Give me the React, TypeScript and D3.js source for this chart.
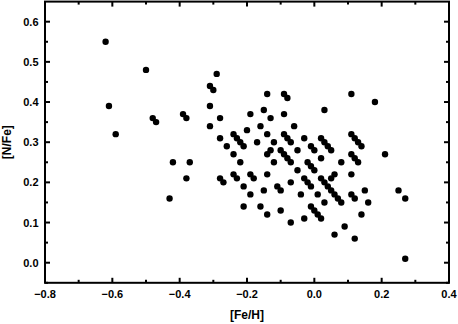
import React from "react";
import * as d3 from "d3";

const feH: number[] = [
  -0.62, -0.61, -0.59, -0.50, -0.48, -0.47, -0.43, -0.42, -0.39, -0.38, -0.38, -0.37,
  -0.29, -0.31, -0.30, -0.31, -0.28, -0.19, -0.31, -0.20, -0.28, -0.24, -0.23, -0.22,
  -0.21, -0.26, -0.24,
  -0.14, -0.09, -0.08, 0.03, -0.15, -0.13, -0.09, -0.16, -0.06, -0.14, -0.09, -0.08,
  -0.07, -0.03, -0.17, -0.12, 0.02, 0.03, 0.04, 0.05, -0.01, 0.00, -0.05, -0.13,
  -0.14, -0.10, -0.09, -0.08,
  0.11, 0.18, 0.11, 0.12, 0.13, 0.14, 0.11, 0.21,
  -0.22, -0.28, -0.27, -0.24, -0.23, -0.19, -0.18, -0.21, -0.19, -0.21,
  -0.12, -0.07, -0.02, -0.01, 0.00, 0.02, -0.05, -0.14, -0.03, -0.02, -0.01, 0.02,
  0.03, 0.04, 0.05, 0.06, -0.07, -0.11, -0.10, -0.15, -0.04, 0.01, 0.03, -0.16,
  -0.14, -0.10, -0.01, 0.00, 0.01, 0.02, -0.07, -0.03, 0.06,
  0.12, 0.13, 0.08, 0.05, 0.11, 0.06, 0.07, 0.08, 0.11, 0.12, 0.15, 0.16, 0.14,
  0.25, 0.27, 0.09, 0.12, 0.27,
];

const nFe: number[] = [
  0.55, 0.39, 0.32, 0.48, 0.36, 0.35, 0.16, 0.25, 0.37, 0.36, 0.21, 0.25,
  0.47, 0.44, 0.43, 0.39, 0.36, 0.37, 0.34, 0.33, 0.31, 0.32, 0.31, 0.30,
  0.29, 0.29, 0.27,
  0.42, 0.42, 0.41, 0.38, 0.38, 0.36, 0.37, 0.34, 0.34, 0.32, 0.32, 0.31,
  0.30, 0.31, 0.30, 0.30, 0.31, 0.30, 0.29, 0.28, 0.29, 0.28, 0.28, 0.28,
  0.27, 0.28, 0.27, 0.26,
  0.42, 0.40, 0.32, 0.31, 0.30, 0.29, 0.27, 0.27,
  0.25, 0.21, 0.20, 0.22, 0.21, 0.22, 0.21, 0.19, 0.17, 0.14,
  0.25, 0.25, 0.25, 0.24, 0.23, 0.26, 0.23, 0.22, 0.21, 0.20, 0.19, 0.21,
  0.20, 0.19, 0.18, 0.22, 0.20, 0.19, 0.18, 0.18, 0.17, 0.17, 0.15, 0.14,
  0.12, 0.13, 0.14, 0.13, 0.12, 0.11, 0.10, 0.11, 0.07,
  0.26, 0.25, 0.25, 0.21, 0.22, 0.17, 0.16, 0.15, 0.17, 0.16, 0.18, 0.15, 0.12,
  0.18, 0.16, 0.09, 0.06, 0.01,
];

const xMajorTicks: number[] = [-0.8, -0.6, -0.4, -0.2, 0.0, 0.2, 0.4];
const xMinorTicks: number[] = [-0.7, -0.5, -0.3, -0.1, 0.1, 0.3];
const yMajorTicks: number[] = [0.0, 0.1, 0.2, 0.3, 0.4, 0.5, 0.6];
const yMinorTicks: number[] = [-0.05, 0.05, 0.15, 0.25, 0.35, 0.45, 0.55];
const xLabel = "[Fe/H]";
const yLabel = "[N/Fe]";

const W = 458;
const H = 324;
const left = 45;
const right = 449;
const top = 1.6;
const bottom = 282.8;

export default function App() {
  const x = d3.scaleLinear().domain([-0.8, 0.4]).range([left, right]);
  const y = d3.scaleLinear().domain([-0.05, 0.65]).range([bottom, top]);
  const font = "'Liberation Sans', Arial, sans-serif";
  const majorLen = 5;
  const minorLen = 3;
  const pts = feH.map((v, i) => [v, nFe[i]] as [number, number]);

  return (
    <svg
      width={W}
      height={H}
      style={{ position: "absolute", left: 0, top: 0, background: "#fff" }}
    >
      <rect x={0} y={0} width={W} height={H} fill="#fff" />
      {pts.map(([a, b], i) => (
        <circle key={i} cx={x(a)} cy={y(b)} r={3.2} fill="#000" />
      ))}
      {/* frame */}
      <rect
        x={left}
        y={top}
        width={right - left}
        height={bottom - top}
        fill="none"
        stroke="#000"
        strokeWidth={2}
      />
      {/* x ticks */}
      {xMajorTicks.map((t) => (
        <g key={"xM" + t}>
          <line x1={x(t)} x2={x(t)} y1={bottom} y2={bottom - majorLen} stroke="#000" strokeWidth={2} />
          <line x1={x(t)} x2={x(t)} y1={top} y2={top + majorLen} stroke="#000" strokeWidth={2} />
          <text
            x={x(t)}
            y={297.5}
            textAnchor="middle"
            fontFamily={font}
            fontWeight="bold"
            fontSize={11}
          >
            {d3.format(".1f")(t)}
          </text>
        </g>
      ))}
      {xMinorTicks.map((t) => (
        <g key={"xm" + t}>
          <line x1={x(t)} x2={x(t)} y1={bottom} y2={bottom - minorLen} stroke="#000" strokeWidth={2} />
          <line x1={x(t)} x2={x(t)} y1={top} y2={top + minorLen} stroke="#000" strokeWidth={2} />
        </g>
      ))}
      {/* y ticks */}
      {yMajorTicks.map((t) => (
        <g key={"yM" + t}>
          <line x1={left} x2={left + majorLen} y1={y(t)} y2={y(t)} stroke="#000" strokeWidth={2} />
          <line x1={right} x2={right - majorLen} y1={y(t)} y2={y(t)} stroke="#000" strokeWidth={2} />
          <text
            x={38.5}
            y={y(t)}
            dy="0.36em"
            textAnchor="end"
            fontFamily={font}
            fontWeight="bold"
            fontSize={11}
          >
            {d3.format(".1f")(t)}
          </text>
        </g>
      ))}
      {yMinorTicks.map((t) => (
        <g key={"ym" + t}>
          <line x1={left} x2={left + minorLen} y1={y(t)} y2={y(t)} stroke="#000" strokeWidth={2} />
          <line x1={right} x2={right - minorLen} y1={y(t)} y2={y(t)} stroke="#000" strokeWidth={2} />
        </g>
      ))}
      <text
        x={(left + right) / 2}
        y={319}
        textAnchor="middle"
        fontFamily={font}
        fontWeight="bold"
        fontSize={12}
      >
        {xLabel}
      </text>
      <text
        transform={`translate(11, ${(top + bottom) / 2}) rotate(-90)`}
        textAnchor="middle"
        fontFamily={font}
        fontWeight="bold"
        fontSize={12}
      >
        {yLabel}
      </text>
    </svg>
  );
}
